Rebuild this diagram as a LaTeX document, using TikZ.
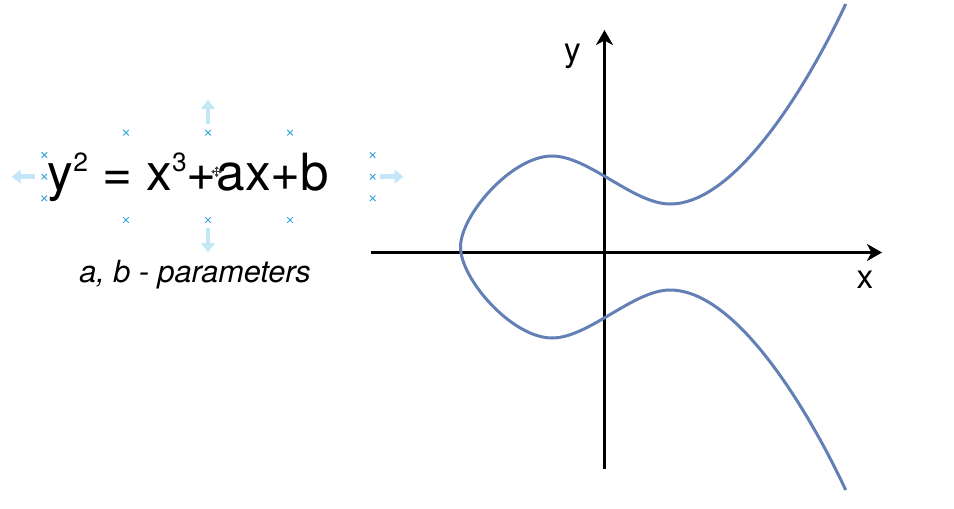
\documentclass[tikz,border=0pt]{standalone}
\usepackage{fontspec}
\setmainfont{TeX Gyre Heros}
\usetikzlibrary{arrows.meta,shapes.misc}
\definecolor{curveblue}{RGB}{98,128,182}
\definecolor{handleblue}{RGB}{60,165,220}
\definecolor{handlelight}{RGB}{196,230,248}
\definecolor{cursorgray}{RGB}{55,55,55}
\newcommand{\supnum}[1]{\raisebox{0.37em}{\fontsize{15pt}{15pt}\selectfont #1}}

\begin{document}
\begin{tikzpicture}[x=0.02cm, y=-0.02cm,
  axis_line/.style={line width=0.055cm, -{Stealth[length=0.3cm, width=0.34cm, inset=0.09cm]}},
  curve_line/.style={draw=curveblue, line width=0.06cm, line join=round},
  lbl_axis/.style={anchor=base, inner sep=0pt, font=\fontsize{19pt}{19pt}\selectfont},
  handle_x/.style={draw=handleblue, cross out, line width=0.02cm, minimum size=0.09cm, inner sep=0pt},
  handle_arrow/.style={draw=handlelight, line width=0.09cm, -{Triangle[length=0.18cm, width=0.27cm]}},
  cursor_arrow/.style={draw=cursorgray, line width=0.03cm, {Triangle[length=0.055cm, width=0.08cm]}-{Triangle[length=0.055cm, width=0.08cm]}}
]
  \useasboundingbox (0,0) rectangle (954,508);

  %% Equation and caption
  \node[anchor=base, inner sep=0pt, font=\fontsize{29.2pt}{29.2pt}\selectfont] (eqn) at (188.5,190) {y\supnum{2} = x\supnum{3}+ax+b};
  \node[anchor=base, inner sep=0pt, font=\fontsize{17.4pt}{17.4pt}\selectfont\itshape] (params) at (195,282) {a, b - parameters};

  %% Selection handles round the equation
  \foreach \hx/\hy [count=\i] in {126/132.7, 208/132.7, 290/132.7,
      44.3/155, 44.3/176.7, 44.3/198.3,
      372.7/155, 372.7/176.7, 372.7/198.3,
      126/220, 208/220, 290/220}
    \node[handle_x] (hx\i) at (\hx,\hy) {};

  \coordinate (hup_s) at (208,124);    \coordinate (hup_e) at (208,100);
  \coordinate (hdown_s) at (208,228);  \coordinate (hdown_e) at (208,252);
  \coordinate (hleft_s) at (35,176.7); \coordinate (hleft_e) at (11.7,176.7);
  \coordinate (hright_s) at (380,176.7); \coordinate (hright_e) at (403.5,176.7);
  \draw[handle_arrow] (hup_s) -- (hup_e);
  \draw[handle_arrow] (hdown_s) -- (hdown_e);
  \draw[handle_arrow] (hleft_s) -- (hleft_e);
  \draw[handle_arrow] (hright_s) -- (hright_e);

  %% Move cursor
  \coordinate (cur_w) at (211.3,171.7); \coordinate (cur_e) at (222.1,171.7);
  \coordinate (cur_n) at (216.7,166.3); \coordinate (cur_s) at (216.7,177.1);
  \draw[cursor_arrow] (cur_w) -- (cur_e);
  \draw[cursor_arrow] (cur_n) -- (cur_s);

  %% Axes
  \coordinate (xmin) at (371,252.5);
  \coordinate (xmax) at (882,252.5);
  \coordinate (ymin) at (604.5,469);
  \coordinate (ymax) at (604.5,30);
  \draw[axis_line] (xmin) -- (xmax);
  \draw[axis_line] (ymin) -- (ymax);
  \node[lbl_axis] (xlbl) at (865,288) {x};
  \node[lbl_axis] (ylbl) at (572.5,61) {y};

  %% Elliptic curve
  \draw[curve_line] (845.7,4) .. controls (823.5,52) and (745,204) .. (670,204)
    .. controls (633.4,204) and (588.6,156) .. (552,156)
    .. controls (512,156) and (460.5,215) .. (460.5,247)
    .. controls (460.5,279) and (512,338) .. (552,338)
    .. controls (588.6,338) and (633.4,290) .. (670,290)
    .. controls (745,290) and (823.5,442) .. (845.7,490);
\end{tikzpicture}
\end{document}
